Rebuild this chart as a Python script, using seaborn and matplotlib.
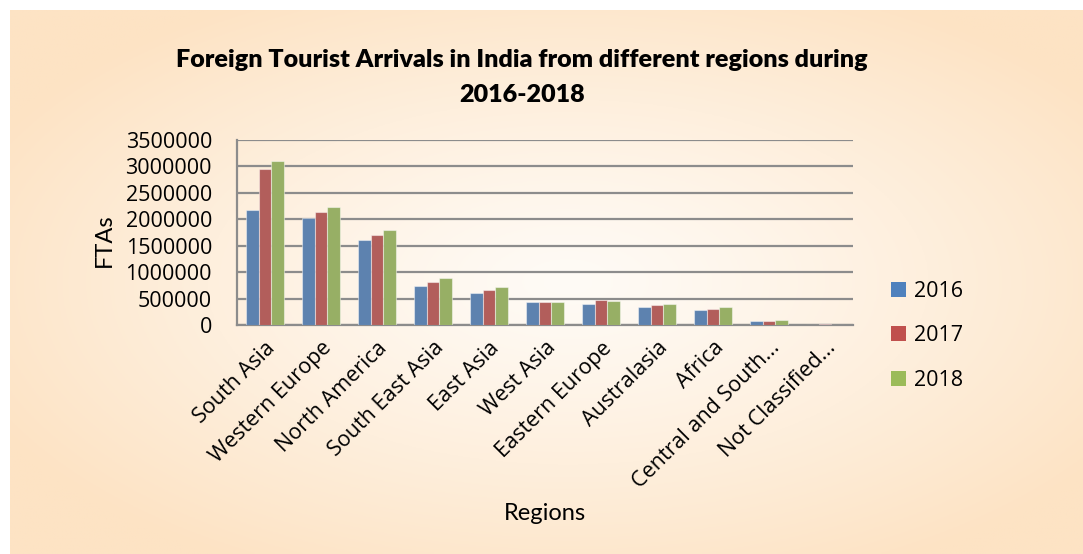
import numpy as np
import pandas as pd
import matplotlib
matplotlib.use("Agg")
import matplotlib.pyplot as plt
import seaborn as sns
from matplotlib.patches import Patch
from matplotlib.ticker import MultipleLocator, FixedLocator

# Data
regions = ["South Asia", "Western Europe", "North America", "South East Asia",
           "East Asia", "West Asia", "Eastern Europe", "Australasia", "Africa",
           "Central and South...", "Not Classified..."]
fta_2016 = [2180000, 2025000, 1608000, 744000, 612000, 441000, 397000, 340000, 290000, 69000, 5000]
fta_2017 = [2945000, 2131000, 1709000, 820000, 656000, 441000, 467000, 385000, 309000, 82000, 12000]
fta_2018 = [3096000, 2232000, 1803000, 883000, 719000, 435000, 454000, 404000, 340000, 95000, 5000]
years = ["2016", "2017", "2018"]
colors = ["#4F81BD", "#C0504D", "#9BBB59"]

df = pd.DataFrame({
    "Region": regions * 3,
    "FTAs": fta_2016 + fta_2017 + fta_2018,
    "Year": [y for y in years for _ in regions],
})

W, H = 1083, 554
fig = plt.figure(figsize=(W / 100, H / 100), dpi=100)
fig.patch.set_facecolor("white")

# Radial peach background
bg = fig.add_axes([10 / W, 0, 1 - 10 / W, 1 - 10 / H], zorder=-10)
xx, yy = np.meshgrid(np.linspace(0, 1, 400), np.linspace(0, 1, 220))
d = np.sqrt(((xx - 0.52) / 0.6) ** 2 + ((yy - 0.5) / 0.6) ** 2)
d = np.clip(d, 0, 1) ** 1.2
c0 = np.array([255, 251, 246]) / 255
c1 = np.array([253, 227, 196]) / 255
img = c0[None, None, :] + (c1 - c0)[None, None, :] * d[..., None]
bg.imshow(img, aspect="auto", extent=[0, 1, 0, 1], origin="upper")
bg.axis("off")

sns.set_style("white")
plt.rcParams["font.family"] = ["Open Sans", "DejaVu Sans"]
plt.rcParams["text.color"] = "black"
plt.rcParams["xtick.color"] = "black"
plt.rcParams["ytick.color"] = "black"

ax = fig.add_axes([237 / W, 1 - 325 / H, 616 / W, 185 / H])
ax.set_facecolor("none")
sns.barplot(data=df, x="Region", y="FTAs", hue="Year", palette=colors,
            width=0.667, gap=0, ax=ax, edgecolor=(1, 1, 1, 0.45),
            linewidth=0.8, legend=False, zorder=3)

grey = "#8C8C8C"
ax.set_ylim(0, 3500000)
ax.set_xlim(-0.5, len(regions) - 0.5)
ax.yaxis.set_major_locator(MultipleLocator(500000))
ax.yaxis.set_major_formatter(matplotlib.ticker.FuncFormatter(lambda v, p: f"{int(v)}"))
ax.grid(axis="y", color=grey, linewidth=1.6, zorder=0)
ax.set_axisbelow(True)
for s in ["top", "right"]:
    ax.spines[s].set_visible(False)
for s in ["left", "bottom"]:
    ax.spines[s].set_color(grey)
    ax.spines[s].set_linewidth(1.6)

ax.tick_params(axis="y", length=6, width=1.6, color=grey, labelsize=15.5,
               labelcolor="black", pad=12)
ax.xaxis.set_minor_locator(FixedLocator(np.arange(-0.5, len(regions), 1.0)))
ax.tick_params(axis="x", which="major", length=0, labelsize=15.5,
               labelcolor="black", pad=9)
ax.tick_params(axis="x", which="minor", length=7, width=1.6, color=grey)
plt.setp(ax.get_xticklabels(), rotation=45, ha="right", rotation_mode="anchor")

ax.set_xlabel("")
ax.set_ylabel("")
fig.text(104 / W, 1 - 240 / H, "FTAs", rotation=90, ha="center", va="center",
         fontsize=17, family=["Lato", "DejaVu Sans"])
fig.text(545 / W, 1 - 514 / H, "Regions", ha="center", va="center",
         fontsize=17, family=["Lato", "DejaVu Sans"])

fig.text(522 / W, 1 - 60 / H, "Foreign Tourist Arrivals in India from different regions during",
         ha="center", va="center", fontsize=18.1, fontweight="heavy", family=["Lato", "DejaVu Sans"])
fig.text(522 / W, 1 - 95 / H, "2016-2018",
         ha="center", va="center", fontsize=18.1, fontweight="heavy", family=["Lato", "DejaVu Sans"])

handles = [Patch(facecolor=c, edgecolor="none", label=y) for c, y in zip(colors, years)]
fig.legend(handles=handles, loc="center left", bbox_to_anchor=(872 / W, 1 - 336 / H),
           frameon=False, fontsize=15.5, handlelength=0.7, handleheight=0.7,
           handletextpad=0.35, labelspacing=1.1)

fig.savefig("out.png", dpi=100, facecolor=fig.get_facecolor())
